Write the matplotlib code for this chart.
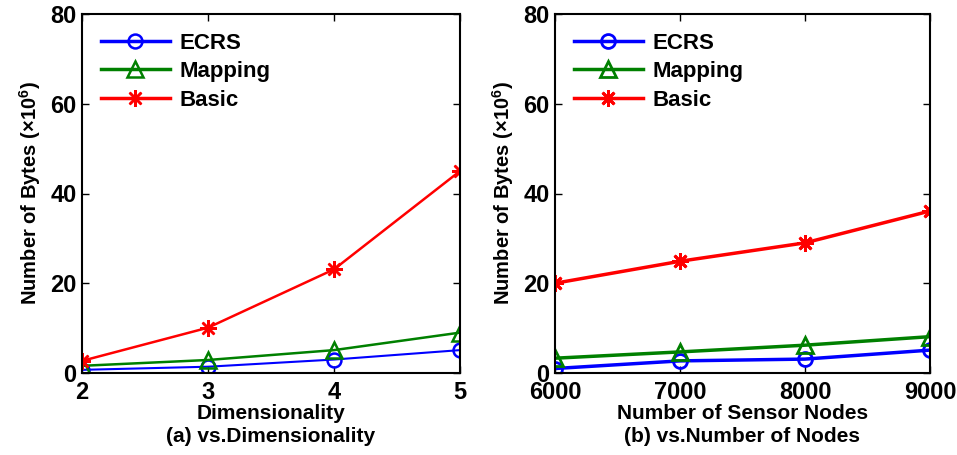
import matplotlib
matplotlib.use("Agg")
import matplotlib.pyplot as plt

plt.rcParams['font.family'] = ['Liberation Sans', 'DejaVu Sans']
plt.rcParams['font.weight'] = 'bold'
plt.rcParams['mathtext.fontset'] = 'custom'
plt.rcParams['mathtext.rm'] = 'Liberation Sans:bold'
plt.rcParams['mathtext.it'] = 'Liberation Sans:bold'
plt.rcParams['mathtext.bf'] = 'Liberation Sans:bold'
plt.rcParams['mathtext.default'] = 'regular'

# Panel (a)
dims = [2, 3, 4, 5]
ecrs_a = [0.7, 1.4, 3.0, 5.1]
mapping_a = [1.6, 2.9, 5.1, 9.0]
basic_a = [2.7, 10.1, 23.1, 45.0]

# Panel (b)
nodes = [6000, 7000, 8000, 9000]
ecrs_b = [1.0, 2.7, 3.1, 5.1]
mapping_b = [3.3, 4.7, 6.2, 8.1]
basic_b = [20.0, 24.9, 29.0, 36.1]

series_names = ['ECRS', 'Mapping', 'Basic']
yticks = [0, 20, 40, 60, 80]

fig = plt.figure(figsize=(9.57, 4.55), dpi=100)
W, H = 957, 455
ax1 = fig.add_axes([82 / W, 1 - 373 / H, (460 - 82) / W, (373 - 14) / H])
ax2 = fig.add_axes([555 / W, 1 - 373 / H, (930 - 555) / W, (373 - 14) / H])

star = (8, 2, 0)

def style(ax, x, xlabel, sub):
    ax.set_ylim(0, 80)
    ax.set_yticks(yticks)
    ax.set_xlim(x[0], x[-1])
    ax.set_xticks(x)
    ax.tick_params(direction='in', top=True, right=True, labelsize=17,
                   length=5, width=1, pad=4)
    ax.tick_params(axis='x', pad=6)
    for lbl in ax.get_xticklabels() + ax.get_yticklabels():
        lbl.set_fontweight('bold')
    for s in ax.spines.values():
        s.set_linewidth(1.5)
    ax.set_ylabel(r'Number of Bytes (×10$^{6}$)', fontsize=14.5, fontweight='bold', labelpad=5)
    ax.set_xlabel(xlabel, fontsize=15, fontweight='bold', labelpad=0)
    ax.text(0.5, -0.178, sub, transform=ax.transAxes, ha='center', va='center',
            fontsize=15, fontweight='bold')
    leg = ax.legend(loc='upper left', bbox_to_anchor=(0.0, 1.0), frameon=False,
                    prop={'size': 16, 'weight': 'bold'}, handlelength=3.1,
                    borderaxespad=0.45, labelspacing=0.33, handletextpad=0.45)
    for line in leg.get_lines():
        line.set_linewidth(2.5)

ax1.plot(dims, ecrs_a, color='#0000ff', lw=1.5, marker='o', ms=10, mfc='none', mew=1.8, label=series_names[0])
ax1.plot(dims, mapping_a, color='#008000', lw=1.8, marker='^', ms=11, mfc='none', mew=1.8, label=series_names[1])
ax1.plot(dims, basic_a, color='#ff0000', lw=1.8, marker=star, ms=12, mew=1.8, label=series_names[2])
style(ax1, dims, 'Dimensionality', '(a) vs.Dimensionality')

ax2.plot(nodes, ecrs_b, color='#0000ff', lw=2.5, marker='o', ms=10, mfc='none', mew=2, label=series_names[0])
ax2.plot(nodes, mapping_b, color='#008000', lw=2.5, marker='^', ms=11, mfc='none', mew=2, label=series_names[1])
ax2.plot(nodes, basic_b, color='#ff0000', lw=2.5, marker=star, ms=12, mew=2, label=series_names[2])
style(ax2, nodes, 'Number of Sensor Nodes', '(b) vs.Number of Nodes')

fig.savefig('out.png', dpi=100)
